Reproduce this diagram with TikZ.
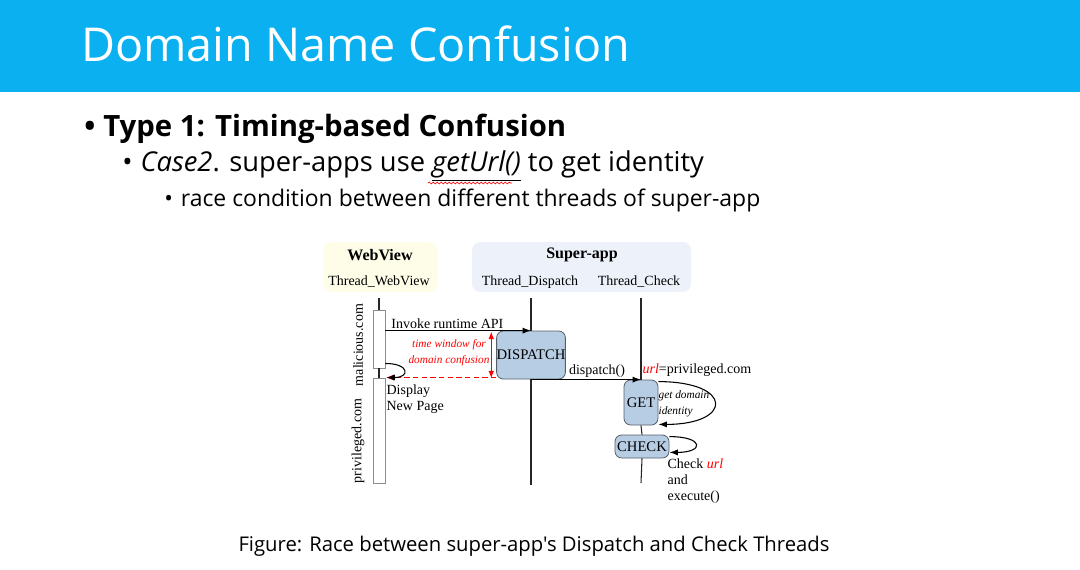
\documentclass[tikz,border=0pt]{standalone}
\usepackage{fontspec}
\setmainfont{Liberation Serif}
\newfontfamily\slidefont{Open Sans}
\usetikzlibrary{arrows.meta,calc,positioning,decorations.pathmorphing}
\definecolor{SlideBlue}{HTML}{0AB0F0}
\definecolor{PaneYellow}{HTML}{FDFDE8}
\definecolor{PaneBlue}{HTML}{EDF2FA}
\definecolor{BoxFill}{HTML}{B7CDE3}
\definecolor{BoxEdge}{HTML}{56606A}
\definecolor{BarEdge}{HTML}{8C8C8C}
\definecolor{WindowRed}{HTML}{FF0000}
\tikzset{
  slide/.style={font=\slidefont, text=black, inner sep=0pt},
  pane/.style={rounded corners=6pt},
  lifeline/.style={draw=black!85, line width=0.8pt},
  activation/.style={draw=BarEdge, fill=white, line width=0.7pt, minimum width=9pt, inner sep=0pt},
  stepbox/.style={draw=BoxEdge, fill=BoxFill, rounded corners=5pt, line width=0.6pt, inner sep=0pt, font=\fontsize{11}{12}\selectfont},
  message/.style={-{Latex[length=2.2mm,width=1.6mm]}, line width=0.8pt},
  window/.style={{Latex[length=2mm,width=1.5mm]}-{Latex[length=2mm,width=1.5mm]}, WindowRed, line width=0.9pt},
  redirect/.style={-{Latex[length=2.2mm,width=1.6mm]}, WindowRed, line width=1.3pt, dash pattern=on 4pt off 2.5pt},
  label/.style={font=\fontsize{10.5}{12}\selectfont, inner sep=1pt},
  note/.style={font=\fontsize{8.5}{12}\selectfont\itshape, inner sep=1pt},
}

\begin{document}
\begin{tikzpicture}[x=0.75pt,y=-0.75pt]
  \useasboundingbox (0,0) rectangle (1080,569);
  % Slide header and bullets
  \fill[SlideBlue] (0,0) rectangle (1080,92);
  \node[slide, anchor=west, text=white, font=\slidefont\fontsize{35}{40}\selectfont] (title) at (81,44) {Domain Name Confusion};
  \node[slide, anchor=west, font=\slidefont\bfseries\fontsize{22}{26}\selectfont] (typeone) at (84,129) {•\hspace{6pt}Type 1: Timing-based Confusion};
  \node[slide, anchor=west, font=\slidefont\fontsize{20.5}{24}\selectfont] (casetwo) at (122,166) {•\hspace{6pt}\textit{Case2}. super-apps use \underline{\textit{getUrl()}} to get identity};
  \draw[WindowRed, line width=0.5pt, decorate, decoration={snake, amplitude=0.7pt, segment length=3pt}] (428,183) -- (512,183);
  \node[slide, anchor=west, font=\slidefont\fontsize{17.2}{20}\selectfont] (race) at (164,200) {•\hspace{6pt}race condition between different threads of super-app};
  % Thread panes
  \fill[PaneYellow, pane] (323,242) rectangle (438,292);
  \fill[PaneBlue, pane] (472,242) rectangle (691,292);
  \node[label, font=\fontsize{12}{14}\selectfont\bfseries] (webview) at (380,255) {WebView};
  \node[label] (twebview) at (379,282) {Thread\_WebView};
  \node[label, font=\fontsize{12}{14}\selectfont\bfseries] (superapp) at (582,255) {Super-app};
  \node[label] (tdispatch) at (530,282) {Thread\_Dispatch};
  \node[label] (tcheck) at (639,282) {Thread\_Check};
  % Activation bars and steps
  \node[activation, minimum height=43.5pt] (malbar) at (379,339) {};
  \node[activation, minimum height=78.75pt] (privbar) at (379,430.5) {};
  \node[stepbox, minimum width=51pt, minimum height=36pt] (dispatch) at (531,355) {DISPATCH};
  \node[stepbox, minimum width=25.5pt, minimum height=33.75pt] (get) at (641,402.5) {GET};
  \node[stepbox, minimum width=40.5pt, minimum height=17.25pt] (check) at (642,446.5) {CHECK};
  % Lifelines
  \draw[lifeline] (379,298) -- (malbar.north);
  \draw[lifeline] (malbar.south) -- (privbar.north);
  \draw[lifeline] (531,298) -- (dispatch.north);
  \draw[lifeline] (dispatch.south) -- (531,485);
  \draw[lifeline] (641,298) -- (get.north);
  \draw[lifeline] (get.south) -- (check.north);
  \draw[lifeline] (check.south) -- (641,483);
  % Side labels
  \node[label, rotate=90] (malicious) at (358,345) {malicious.com};
  \node[label, rotate=90] (privileged) at (358,441) {privileged.com};
  % Messages
  \draw[message] (malbar.east |- dispatch.north) -- node[pos=0, above right, label, xshift=3pt] {Invoke runtime API} (dispatch.north);
  \draw[window] ($(dispatch.north west)+(-5,1)$) -- ($(dispatch.south west)+(-5,-1)$);
  \node[note, text=WindowRed, align=center] (timewindow) at (449,353) {time window for\\domain confusion};
  \draw[redirect] (dispatch.south west |- privbar.north) -- (privbar.north east);
  \draw[message] ($(malbar.south east)+(0,-5)$) .. controls +(24,0) and +(24,0) .. ($(privbar.north east)+(1,0)$);
  \node[label, anchor=north west, align=left] (display) at (385,383) {Display\\New Page};
  \draw[message] (dispatch.south |- get.north) -- node[pos=0.6, above, label] {dispatch()} (get.north);
  \node[label, anchor=south west] (urlvalue) at (641,378) {\textcolor{WindowRed}{\textit{url}}=privileged.com};
  \draw[message] ($(get.north east)+(0,2)$) .. controls +(75,0) and +(75,0) .. ($(get.south east)+(0,-1)$);
  \node[note, anchor=west, align=left] (identity) at (657,404) {get domain\\identity};
  \draw[message] ($(check.north east)+(0,2)$) .. controls +(35,0) and +(35,0) .. ($(check.south east)+(0,-6)$);
  \node[label, anchor=north west, align=left] (checkurl) at (666,457) {Check \textcolor{WindowRed}{\textit{url}}\\and\\execute()};
  % Caption
  \node[slide, font=\slidefont\fontsize{15.2}{18}\selectfont] (caption) at (534,546) {Figure: Race between super-app's Dispatch and Check Threads};
\end{tikzpicture}
\end{document}
